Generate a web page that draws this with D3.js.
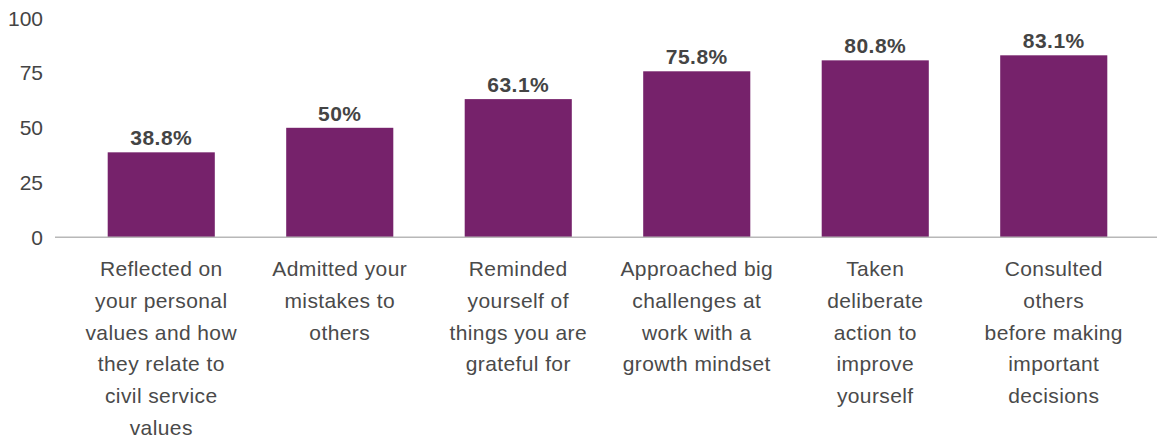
<!DOCTYPE html>
<html>
<head>
<meta charset="utf-8">
<script src="https://cdn.jsdelivr.net/npm/d3@7"></script>
<style>
  html, body { margin: 0; padding: 0; background: #fff; }
  svg { display: block; font-family: "Liberation Sans", Arial, Helvetica, sans-serif; }
</style>
</head>
<body>
<svg id="chart" width="1157" height="441"></svg>
<script>
// Share of respondents who have done each activity (%)
const categories = [
  "Reflected on\nyour personal\nvalues and how\nthey relate to\ncivil service\nvalues",
  "Admitted your\nmistakes to\nothers",
  "Reminded\nyourself of\nthings you are\ngrateful for",
  "Approached big\nchallenges at\nwork with a\ngrowth mindset",
  "Taken\ndeliberate\naction to\nimprove\nyourself",
  "Consulted\nothers\nbefore making\nimportant\ndecisions"
];
const values = [38.8, 50, 63.1, 75.8, 80.8, 83.1];
const valueLabels = ["38.8%", "50%", "63.1%", "75.8%", "80.8%", "83.1%"];
const yTicks = [0, 25, 50, 75, 100];

const svg = d3.select("#chart");
const W = 1157;

const x = d3.scaleBand()
  .domain(categories)
  .range([72, 1143])
  .paddingInner(0.4)
  .paddingOuter(0.2);

const y = d3.scaleLinear()
  .domain([0, 100])
  .range([237.3, 18.3]);

// y axis labels
const yAxis = d3.axisLeft(y).tickValues(yTicks).tickSize(0).tickPadding(0);
const yg = svg.append("g").attr("transform", "translate(43,0)").call(yAxis);
yg.select(".domain").remove();
yg.selectAll("text")
  .attr("fill", "#444")
  .style("font-size", "21px")
  .style("font-family", "'Liberation Sans', Arial, sans-serif");

// bars
svg.append("g").selectAll("rect")
  .data(values)
  .join("rect")
  .attr("x", (d, i) => x(categories[i]))
  .attr("y", d => y(d))
  .attr("width", x.bandwidth())
  .attr("height", d => y(0) - y(d))
  .attr("fill", "#76226b");

// baseline
svg.append("line")
  .attr("x1", 55).attr("x2", W)
  .attr("y1", y(0)).attr("y2", y(0))
  .attr("stroke", "#b8b8b8")
  .attr("stroke-width", 1.5);

// value labels
svg.append("g").selectAll("text")
  .data(values)
  .join("text")
  .attr("x", (d, i) => x(categories[i]) + x.bandwidth() / 2)
  .attr("y", d => y(d) - 7)
  .attr("text-anchor", "middle")
  .attr("fill", "#444")
  .style("font-size", "21px")
  .style("letter-spacing", "0.5px")
  .style("font-weight", "bold")
  .text((d, i) => valueLabels[i]);

// category labels, one tspan per line
const cat = svg.append("g").selectAll("text")
  .data(categories)
  .join("text")
  .attr("x", d => x(d) + x.bandwidth() / 2)
  .attr("y", 276)
  .attr("text-anchor", "middle")
  .attr("fill", "#4a4a4a")
  .style("font-size", "21px")
  .style("letter-spacing", "0.4px");

cat.each(function (d) {
  const t = d3.select(this);
  d.split("\n").forEach((line, k) => {
    t.append("tspan")
      .attr("x", x(d) + x.bandwidth() / 2)
      .attr("dy", k === 0 ? 0 : 31.8)
      .text(line);
  });
});
</script>
</body>
</html>
